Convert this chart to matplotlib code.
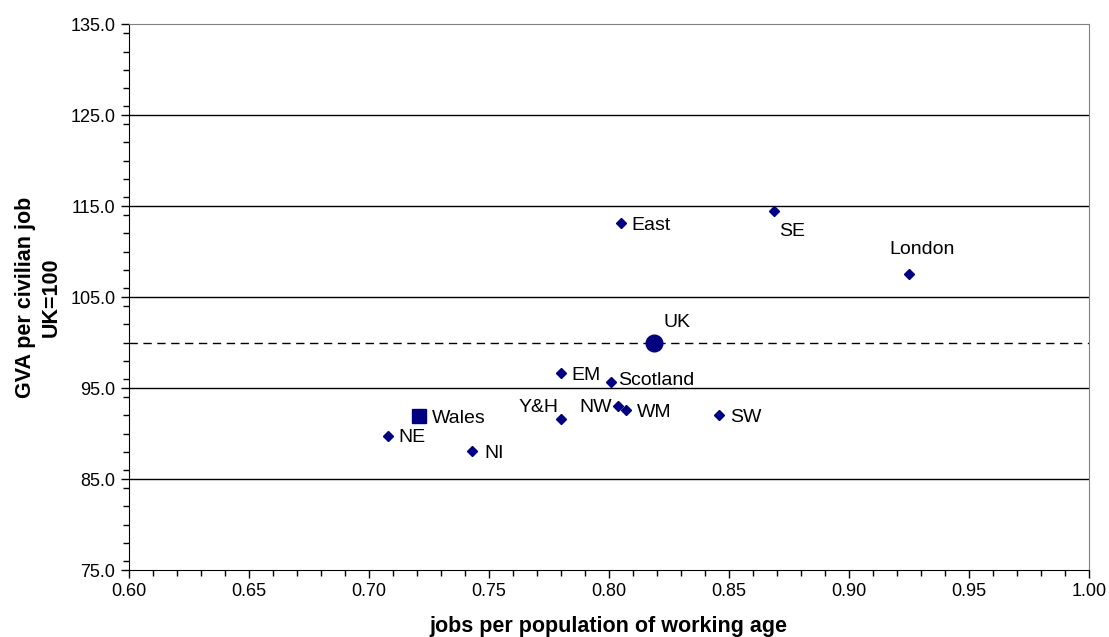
import matplotlib.pyplot as plt
import numpy as np
from matplotlib.ticker import MultipleLocator

# Regional data
regions = ["East", "SE", "London", "EM", "Scotland", "Y&H", "NW", "WM", "SW", "NE", "NI"]
jobs_ratio = [0.805, 0.869, 0.925, 0.780, 0.801, 0.780, 0.804, 0.807, 0.846, 0.708, 0.743]
gva_index = [113.2, 114.5, 107.6, 96.7, 95.7, 91.6, 93.0, 92.6, 92.0, 89.7, 88.1]

wales_x = [0.721]
wales_y = [91.9]
uk_x = [0.819]
uk_y = [100.0]

y_ticks = [75, 85, 95, 105, 115, 125, 135]

NAVY = "#000080"

# label placement: (dx, dy in pixels, horizontal alignment)
LABEL_OFFSETS = {
    "East": (11, -7, "left"),
    "SE": (5, -25, "left"),
    "London": (13, 20, "center"),
    "EM": (11, -7, "left"),
    "Scotland": (7, -3, "left"),
    "Y&H": (-2, 7, "right"),
    "NW": (-7, -6, "right"),
    "WM": (11, -7, "left"),
    "SW": (11, -7, "left"),
    "NE": (11, -6, "left"),
    "NI": (12, -7, "left"),
    "Wales": (13, -7, "left"),
    "UK": (9, 16, "left"),
}

plt.rcParams["font.family"] = ["Liberation Sans", "DejaVu Sans"]

fig = plt.figure(figsize=(11.09, 6.37), dpi=100)
ax = fig.add_axes([0.1159, 0.105, 0.982 - 0.1159, 0.962 - 0.105])

ax.set_xlim(0.60, 1.00)
ax.set_ylim(75, 135)

# horizontal gridlines and the UK reference line
for yv in y_ticks[1:-1]:
    ax.axhline(yv, color="black", lw=1.0, zorder=1)
ax.axhline(100, color="black", lw=1.0, ls=(0, (6, 4)), zorder=1)

ax.plot(jobs_ratio, gva_index, ls="none", marker="D", ms=5, color=NAVY, zorder=3)
ax.plot(wales_x, wales_y, ls="none", marker="s", ms=9.5, color=NAVY, zorder=3)
ax.plot(uk_x, uk_y, ls="none", marker="o", ms=12, color=NAVY, zorder=3)

names = regions + ["Wales", "UK"]
xs = jobs_ratio + wales_x + uk_x
ys = gva_index + wales_y + uk_y
for name, xv, yv in zip(names, xs, ys):
    dx, dy, ha = LABEL_OFFSETS[name]
    ax.annotate(name, (xv, yv), xytext=(dx, dy), textcoords="offset pixels",
                ha=ha, va="baseline", fontsize=14, color="black", zorder=4)

ax.set_xticks(np.arange(0.60, 1.001, 0.05))
ax.set_xticklabels([f"{v:.2f}" for v in np.arange(0.60, 1.001, 0.05)])
ax.xaxis.set_minor_locator(MultipleLocator(0.01))
ax.set_yticks(y_ticks)
ax.set_yticklabels([f"{v:.1f}" for v in y_ticks])
ax.yaxis.set_minor_locator(MultipleLocator(2))

ax.tick_params(which="major", length=6, width=1, labelsize=13, direction="out")
ax.tick_params(which="minor", length=4, width=1, direction="out")

for side in ["top", "right"]:
    ax.spines[side].set_color("#808080")
for side in ["left", "bottom"]:
    ax.spines[side].set_color("black")

ax.set_xlabel("jobs per population of working age", fontsize=15.5, fontweight="bold", labelpad=11)
ax.set_ylabel("GVA per civilian job\nUK=100", fontsize=15.5, fontweight="bold",
              labelpad=6, linespacing=1.3)

fig.savefig("out.png", dpi=100)
